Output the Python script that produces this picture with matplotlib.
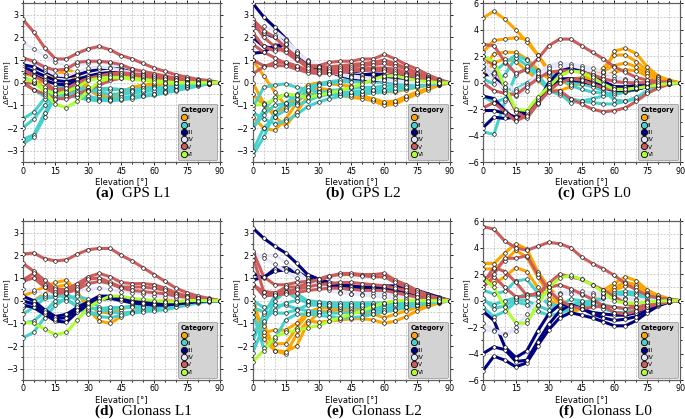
import matplotlib
matplotlib.use("Agg")
import matplotlib.pyplot as plt
from matplotlib.lines import Line2D
from matplotlib.ticker import MultipleLocator

elev = list(range(0, 91, 5))
categories = ["I", "II", "III", "IV", "V", "VI"]
cat_colors = {"I": "#FFA500", "II": "#48D1CC", "III": "#000080",
              "IV": "#E6E6FA", "V": "#CD5C5C", "VI": "#ADFF2F"}

# ---- (a) GPS L1 ----
gps_l1 = {
    "I": [
        [0.4, 0.3, 0.2, 0.3, 0.6, 0.4, -0.2, -0.55, -0.65, -0.55, -0.3, -0.2, -0.1, -0.05, 0.0, 0.0, 0.0, 0.0, 0],
        [0.2, 0.0, 0.05, 0.3, 0.4, 0.1, -0.3, -0.6, -0.7, -0.4, -0.2, -0.1, -0.05, 0.0, 0.0, 0.0, 0.0, 0.0, 0],
    ],
    "II": [
        [-1.6, -1.3, -0.7, -0.2, -0.15, -0.2, -0.3, -0.45, -0.5, -0.5, -0.45, -0.4, -0.35, -0.3, -0.25, -0.2, -0.1, -0.05, 0],
        [-2.0, -1.6, -1.0, -0.35, -0.3, -0.45, -0.6, -0.7, -0.7, -0.65, -0.6, -0.55, -0.5, -0.4, -0.3, -0.2, -0.1, -0.05, 0],
        [-2.5, -2.3, -1.35, -0.5, -0.5, -0.6, -0.7, -0.75, -0.8, -0.75, -0.7, -0.6, -0.55, -0.45, -0.35, -0.25, -0.15, -0.05, 0],
        [-2.7, -2.4, -1.5, -0.6, -0.55, -0.65, -0.75, -0.8, -0.75, -0.7, -0.65, -0.6, -0.5, -0.4, -0.3, -0.2, -0.1, -0.05, 0],
        [0.3, 0.0, -0.3, -0.35, -0.3, -0.3, -0.35, -0.35, -0.3, -0.3, -0.3, -0.25, -0.2, -0.2, -0.15, -0.1, -0.05, 0.0, 0],
        [0.0, -0.3, -0.6, -0.75, -0.6, -0.4, -0.3, -0.25, -0.25, -0.3, -0.35, -0.3, -0.25, -0.2, -0.15, -0.1, -0.05, 0.0, 0],
    ],
    "III": [
        [0.8, 0.7, 0.5, 0.3, 0.25, 0.35, 0.5, 0.6, 0.65, 0.6, 0.5, 0.4, 0.3, 0.2, 0.15, 0.1, 0.05, 0.02, 0],
        [0.7, 0.5, 0.3, 0.1, 0.05, 0.15, 0.3, 0.4, 0.45, 0.45, 0.4, 0.3, 0.25, 0.2, 0.1, 0.05, 0.02, 0.0, 0],
        [0.5, 0.35, 0.1, -0.05, -0.1, 0.05, 0.2, 0.3, 0.35, 0.35, 0.3, 0.25, 0.2, 0.15, 0.1, 0.05, 0.02, 0.0, 0],
    ],
    "IV": [
        [1.8, 1.5, 1.2, 0.9, 0.75, 0.8, 0.85, 0.9, 0.85, 0.75, 0.6, 0.45, 0.35, 0.25, 0.2, 0.1, 0.05, 0.02, 0],
        [1.0, 0.9, 0.6, 0.35, 0.3, 0.5, 0.65, 0.7, 0.65, 0.55, 0.45, 0.35, 0.25, 0.2, 0.15, 0.1, 0.05, 0.0, 0],
    ],
    "V": [
        [2.8, 2.25, 1.55, 1.05, 1.05, 1.3, 1.5, 1.6, 1.45, 1.2, 1.05, 0.85, 0.65, 0.5, 0.35, 0.25, 0.15, 0.1, 0],
        [1.1, 0.95, 0.7, 0.55, 0.6, 0.9, 0.95, 0.95, 0.9, 0.8, 0.6, 0.5, 0.4, 0.3, 0.2, 0.15, 0.1, 0.05, 0],
        [0.6, 0.3, 0.05, -0.35, -0.45, -0.2, 0.1, 0.3, 0.4, 0.45, 0.4, 0.35, 0.3, 0.25, 0.2, 0.15, 0.1, 0.05, 0],
        [0.0, -0.3, -0.5, -0.7, -0.7, -0.5, -0.3, -0.1, 0.1, 0.2, 0.25, 0.2, 0.15, 0.1, 0.1, 0.05, 0.05, 0.0, 0],
        [-0.05, 0.0, -0.2, -0.3, -0.25, 0.0, 0.2, 0.3, 0.35, 0.35, 0.3, 0.25, 0.2, 0.15, 0.1, 0.05, 0.02, 0.0, 0],
    ],
    "VI": [
        [0.15, 0.05, -0.4, -0.95, -1.1, -0.8, -0.35, 0.05, 0.2, 0.25, 0.2, 0.15, 0.1, 0.05, 0.0, 0.0, 0.0, 0.0, 0],
        [0.15, 0.1, -0.3, -0.5, -0.4, -0.2, 0.1, 0.2, 0.25, 0.2, 0.15, 0.1, 0.05, 0.0, 0.0, 0.0, 0.0, 0.0, 0],
    ],
}

# ---- (b) GPS L2 ----
gps_l2 = {
    "I": [
        [1.0, 0.3, -0.4, -1.0, -0.9, -0.4, -0.3, -0.35, -0.4, -0.45, -0.55, -0.75, -0.9, -0.85, -0.65, -0.45, -0.25, -0.1, 0],
        [0.0, -0.9, -1.5, -1.9, -1.3, -0.6, -0.4, -0.4, -0.55, -0.65, -0.7, -0.8, -1.0, -0.95, -0.7, -0.5, -0.3, -0.1, 0],
        [-1.5, -2.0, -2.1, -1.6, -0.9, -0.3, -0.25, -0.3, -0.4, -0.5, -0.6, -0.7, -0.85, -0.8, -0.6, -0.4, -0.25, -0.1, 0],
        [-0.5, -1.0, -1.3, -1.1, -0.6, -0.1, 0.0, -0.05, -0.1, -0.15, -0.2, -0.3, -0.4, -0.4, -0.3, -0.2, -0.1, -0.05, 0],
    ],
    "II": [
        [-3.2, -2.4, -1.3, -0.9, -0.5, -0.2, -0.05, 0.05, 0.1, 0.15, 0.2, 0.2, 0.2, 0.15, 0.1, 0.05, 0.0, 0.0, 0],
        [-3.0, -2.0, -1.5, -1.2, -0.75, -0.35, -0.1, -0.05, 0.05, 0.05, 0.05, 0.05, 0.0, -0.05, -0.05, -0.05, 0.0, 0.0, 0],
        [-2.0, -1.2, -0.65, -0.55, -0.7, -0.6, -0.45, -0.35, -0.3, -0.25, -0.2, -0.2, -0.15, -0.15, -0.1, -0.05, 0.0, 0.0, 0],
        [-1.1, -0.2, -0.1, -0.05, -0.2, -0.3, -0.4, -0.5, -0.55, -0.5, -0.4, -0.35, -0.3, -0.3, -0.25, -0.15, -0.1, -0.05, 0],
        [-1.3, -1.6, -1.8, -1.7, -1.4, -1.05, -0.85, -0.7, -0.6, -0.55, -0.5, -0.45, -0.4, -0.35, -0.25, -0.2, -0.1, -0.05, 0],
        [-2.0, -1.4, -1.0, -0.9, -1.0, -0.8, -0.6, -0.5, -0.45, -0.4, -0.35, -0.3, -0.3, -0.25, -0.2, -0.15, -0.1, -0.05, 0],
    ],
    "III": [
        [3.5, 2.9, 2.45, 1.95, 1.35, 0.95, 0.7, 0.55, 0.45, 0.35, 0.3, 0.3, 0.25, 0.2, 0.15, 0.1, 0.05, 0.02, 0],
        [2.0, 1.6, 1.5, 1.7, 1.2, 0.85, 0.6, 0.45, 0.4, 0.45, 0.55, 0.6, 0.55, 0.4, 0.25, 0.15, 0.1, 0.05, 0],
        [1.3, 1.35, 1.65, 1.65, 1.2, 0.8, 0.6, 0.45, 0.35, 0.3, 0.35, 0.4, 0.35, 0.25, 0.15, 0.1, 0.05, 0.02, 0],
        [2.5, 2.2, 2.0, 1.8, 1.3, 0.9, 0.65, 0.5, 0.3, 0.2, 0.15, 0.1, 0.1, 0.05, 0.05, 0.0, 0.0, 0.0, 0],
    ],
    "IV": [
        [2.4, 2.5, 2.3, 1.9, 1.4, 1.0, 0.75, 0.55, 0.4, 0.3, 0.25, 0.2, 0.15, 0.1, 0.05, 0.02, 0.0, 0.0, 0],
        [2.6, 2.2, 2.1, 1.7, 1.3, 0.95, 0.7, 0.5, 0.35, 0.25, 0.2, 0.15, 0.1, 0.05, 0.02, 0.0, 0.0, 0.0, 0],
    ],
    "V": [
        [2.8, 2.3, 2.0, 1.55, 1.1, 0.75, 0.75, 0.9, 0.95, 0.95, 1.05, 1.05, 1.25, 1.05, 0.8, 0.6, 0.35, 0.15, 0],
        [2.7, 2.0, 1.6, 1.35, 1.0, 0.75, 0.7, 0.7, 0.75, 0.8, 0.85, 0.9, 1.0, 0.85, 0.65, 0.45, 0.25, 0.1, 0],
        [1.7, 1.35, 1.1, 0.85, 0.7, 0.55, 0.55, 0.6, 0.65, 0.7, 0.75, 0.8, 0.85, 0.75, 0.6, 0.4, 0.25, 0.1, 0],
        [1.0, 0.75, 0.75, 0.75, 0.6, 0.45, 0.4, 0.45, 0.5, 0.55, 0.6, 0.65, 0.65, 0.6, 0.45, 0.3, 0.2, 0.1, 0],
        [0.4, 0.7, 0.9, 0.9, 0.75, 0.55, 0.5, 0.5, 0.55, 0.6, 0.6, 0.6, 0.6, 0.5, 0.4, 0.3, 0.15, 0.05, 0],
        [2.2, 1.6, 1.4, 1.5, 1.05, 0.65, 0.45, 0.4, 0.45, 0.5, 0.55, 0.55, 0.5, 0.45, 0.35, 0.25, 0.15, 0.05, 0],
    ],
    "VI": [
        [-1.0, -0.95, -0.75, -0.5, -0.55, -0.65, -0.55, -0.45, -0.35, -0.2, -0.05, 0.15, 0.3, 0.3, 0.2, 0.1, 0.05, 0.0, 0],
    ],
}

# ---- (c) GPS L0 ----
gps_l0 = {
    "I": [
        [4.9, 5.4, 4.8, 4.0, 3.1, 2.1, 0.8, 0.2, -0.2, -0.1, 0.1, 0.7, 2.4, 2.6, 2.2, 1.2, 0.5, 0.2, 0],
        [2.3, 3.2, 3.3, 3.4, 3.3, 2.1, 1.0, 0.2, 0.0, 0.2, 0.5, 1.1, 2.1, 2.1, 1.6, 0.9, 0.4, 0.15, 0],
        [1.0, 2.2, 2.3, 2.3, 1.8, 1.0, 0.3, 0.0, 0.2, 0.4, 0.6, 0.9, 1.3, 1.5, 1.2, 0.7, 0.3, 0.1, 0],
        [0.5, 1.5, 1.8, 1.6, 0.9, 0.2, -0.5, -0.6, -0.3, 0.1, 0.3, 0.5, 0.8, 1.0, 0.9, 0.5, 0.25, 0.1, 0],
    ],
    "II": [
        [-3.7, -3.9, -1.4, 0.6, 1.1, 0.9, 0.6, 0.3, 0.0, -0.1, -0.3, -0.6, -1.3, -1.4, -1.2, -0.7, -0.3, -0.1, 0],
        [0.3, -0.1, 0.6, 1.9, 1.3, 0.4, -0.6, -0.9, -1.2, -1.4, -1.5, -1.6, -1.6, -1.4, -1.1, -0.6, -0.3, -0.1, 0],
        [1.2, 0.8, 1.5, 2.1, 1.7, 0.6, -0.4, -0.8, -1.5, -1.4, -1.2, -1.0, -0.9, -0.7, -0.5, -0.3, -0.15, -0.05, 0],
        [-1.0, -1.5, -1.2, -0.5, 0.0, 0.5, 0.7, 0.4, -0.2, -0.5, -0.7, -0.8, -0.8, -0.7, -0.5, -0.3, -0.15, -0.05, 0],
    ],
    "III": [
        [-3.4, -2.6, -2.7, -2.6, -2.4, -1.5, 0.0, 0.9, 1.1, 1.0, 0.6, 0.1, -0.3, -0.4, -0.3, -0.2, -0.1, -0.05, 0],
        [-1.0, -1.2, -2.1, -2.8, -2.5, -1.5, -0.2, 0.2, 0.2, 0.1, -0.1, -0.4, -0.6, -0.6, -0.5, -0.3, -0.15, -0.05, 0],
        [0.6, 0.6, -0.6, -2.1, -2.3, -1.3, -0.2, 0.3, 0.3, 0.2, -0.1, -0.3, -0.4, -0.35, -0.25, -0.15, -0.1, 0.0, 0],
        [-2.1, -2.1, -2.3, -2.6, -2.3, -1.2, -0.3, 0.2, 0.3, 0.25, 0.0, -0.2, -0.3, -0.3, -0.2, -0.1, -0.05, 0.0, 0],
    ],
    "IV": [
        [1.6, 0.7, 0.0, -0.6, -0.2, 0.7, 1.3, 1.5, 1.4, 1.3, 1.1, 0.8, 0.5, 0.3, 0.15, 0.1, 0.05, 0.0, 0],
        [1.3, 0.2, -0.5, -1.0, -0.6, 0.4, 1.1, 1.3, 1.3, 1.1, 0.8, 0.5, 0.3, 0.2, 0.1, 0.05, 0.0, 0.0, 0],
    ],
    "V": [
        [2.9, 2.8, 1.6, 0.7, 1.0, 1.8, 2.8, 3.3, 3.3, 2.8, 2.3, 1.8, 1.2, 0.8, 0.4, 0.2, 0.1, 0.05, 0],
        [2.0, 1.3, -0.3, -2.2, -2.7, -1.6, -0.6, 0.0, 0.3, 0.2, -0.1, -0.4, -0.5, -0.5, -0.4, -0.3, -0.2, -0.1, 0],
        [-1.9, -1.5, -2.2, -2.9, -2.5, -1.5, -0.7, -0.6, -1.2, -1.6, -2.0, -2.2, -2.1, -1.9, -1.4, -0.8, -0.4, -0.1, 0],
        [0.0, -0.6, -0.8, -0.9, -0.3, 0.3, 0.8, 0.9, 0.9, 0.8, 0.6, 0.3, 0.1, 0.0, 0.0, 0.0, 0.0, 0.0, 0],
    ],
    "VI": [
        [2.0, 1.6, -0.3, -2.0, -2.1, -1.1, -0.3, 0.5, 0.9, 0.8, 0.4, -0.1, -0.5, -0.5, -0.4, -0.3, -0.15, -0.05, 0],
    ],
}

# ---- (d) Glonass L1 ----
glo_l1 = {
    "I": [
        [0.2, 0.4, 0.6, 0.8, 0.9, 0.4, -0.4, -0.9, -1.0, -0.7, -0.5, -0.3, -0.2, -0.1, -0.05, 0.0, 0.0, 0.0, 0],
        [-0.3, 0.0, 0.3, 0.6, 0.7, 0.3, -0.2, -0.5, -0.55, -0.4, -0.2, -0.1, -0.05, 0.0, 0.0, 0.0, 0.0, 0.0, 0],
    ],
    "II": [
        [-1.65, -1.4, -0.75, -0.2, 0.1, 0.2, 0.05, -0.3, -0.5, -0.55, -0.5, -0.4, -0.35, -0.25, -0.2, -0.1, -0.05, 0.0, 0],
        [-0.6, -0.3, 0.1, 0.15, 0.3, 0.0, -0.45, -0.7, -0.75, -0.65, -0.55, -0.5, -0.45, -0.4, -0.3, -0.2, -0.1, -0.05, 0],
        [-0.3, 0.0, 0.2, 0.3, 0.1, -0.3, -0.6, -0.5, -0.4, -0.3, -0.25, -0.2, -0.2, -0.15, -0.1, -0.05, 0.0, 0.0, 0],
        [-1.0, -0.9, -0.5, 0.0, 0.0, -0.2, -0.35, -0.35, -0.3, -0.3, -0.3, -0.3, -0.25, -0.2, -0.15, -0.1, -0.05, 0.0, 0],
    ],
    "III": [
        [0.2, 0.0, -0.4, -0.7, -0.6, -0.3, -0.05, 0.2, 0.2, 0.1, 0.0, -0.05, -0.1, -0.1, -0.1, -0.05, 0.0, 0.0, 0],
        [-0.2, -0.3, -0.6, -0.9, -0.95, -0.5, -0.2, 0.05, 0.1, 0.0, -0.1, -0.15, -0.2, -0.2, -0.15, -0.1, -0.05, 0.0, 0],
        [0.0, -0.15, -0.5, -0.8, -0.75, -0.4, -0.1, 0.1, 0.15, 0.05, -0.05, -0.1, -0.15, -0.15, -0.1, -0.05, 0.0, 0.0, 0],
    ],
    "IV": [
        [0.5, 0.45, 0.3, 0.3, 0.35, 0.45, 0.5, 0.55, 0.5, 0.4, 0.35, 0.3, 0.2, 0.15, 0.1, 0.05, 0.02, 0.0, 0],
    ],
    "V": [
        [2.05, 2.1, 1.85, 1.75, 1.8, 2.05, 2.25, 2.3, 2.3, 2.0, 1.75, 1.45, 1.15, 0.85, 0.55, 0.35, 0.2, 0.1, 0],
        [1.65, 1.3, 0.9, 0.5, 0.5, 0.75, 1.05, 1.2, 1.05, 0.8, 0.75, 0.75, 0.7, 0.55, 0.35, 0.2, 0.1, 0.05, 0],
        [0.9, 1.2, 0.7, 0.4, 0.4, 0.6, 0.95, 1.0, 0.8, 0.6, 0.6, 0.6, 0.55, 0.45, 0.3, 0.2, 0.1, 0.05, 0],
        [0.85, 1.0, 0.6, 0.3, 0.35, 0.5, 0.75, 0.85, 0.75, 0.55, 0.45, 0.4, 0.35, 0.3, 0.2, 0.15, 0.1, 0.05, 0],
    ],
    "VI": [
        [-0.95, -1.0, -1.25, -1.5, -1.4, -0.85, -0.3, 0.0, 0.2, 0.2, 0.1, 0.05, 0.0, -0.05, -0.05, 0.0, 0.0, 0.0, 0],
    ],
}

# ---- (e) Glonass L2 ----
glo_l2 = {
    "I": [
        [-0.5, -1.0, -2.2, -2.35, -1.5, -0.9, -0.95, -0.9, -0.85, -0.8, -0.8, -0.85, -1.0, -0.9, -0.7, -0.45, -0.25, -0.1, 0],
        [-0.7, -1.5, -1.9, -1.9, -1.2, -0.6, -0.5, -0.45, -0.4, -0.45, -0.55, -0.6, -0.75, -0.6, -0.45, -0.3, -0.2, -0.1, 0],
        [0.2, -1.7, -2.2, -2.25, -2.0, -1.0, -0.55, -0.45, -0.35, -0.3, -0.3, -0.4, -0.45, -0.4, -0.3, -0.2, -0.1, -0.05, 0],
        [-0.2, -1.4, -1.3, -1.3, -1.0, -0.5, -0.35, -0.3, -0.3, -0.35, -0.4, -0.45, -0.5, -0.4, -0.3, -0.2, -0.1, -0.05, 0],
    ],
    "II": [
        [-2.3, -1.1, 0.0, 0.4, 0.1, -0.1, -0.1, -0.1, -0.15, -0.15, -0.15, -0.15, -0.15, -0.1, -0.1, -0.05, 0.0, 0.0, 0],
        [-1.8, -0.6, 0.2, 0.55, 0.3, 0.0, -0.2, -0.25, -0.3, -0.3, -0.3, -0.3, -0.3, -0.25, -0.2, -0.15, -0.1, -0.05, 0],
        [0.0, -0.3, -0.2, -0.2, -0.35, -0.45, -0.5, -0.55, -0.55, -0.5, -0.5, -0.45, -0.4, -0.35, -0.3, -0.2, -0.1, -0.05, 0],
        [-0.5, -2.1, -1.7, -0.85, -0.6, -0.6, -0.65, -0.7, -0.75, -0.75, -0.7, -0.6, -0.5, -0.4, -0.3, -0.2, -0.1, -0.05, 0],
        [-1.4, -0.9, -0.4, -0.1, 0.0, 0.0, -0.05, -0.1, -0.1, -0.1, -0.1, -0.1, -0.1, -0.1, -0.05, -0.05, 0.0, 0.0, 0],
        [-0.3, -0.5, -0.55, -0.55, -0.4, -0.2, -0.2, -0.2, -0.2, -0.2, -0.2, -0.2, -0.15, -0.15, -0.1, -0.05, 0.0, 0.0, 0],
    ],
    "III": [
        [3.2, 2.75, 2.4, 2.1, 1.65, 1.15, 0.95, 0.8, 0.7, 0.65, 0.6, 0.6, 0.65, 0.65, 0.55, 0.45, 0.3, 0.15, 0],
        [1.2, 1.0, 1.4, 1.45, 1.3, 1.0, 0.8, 0.7, 0.65, 0.6, 0.55, 0.55, 0.5, 0.45, 0.4, 0.3, 0.2, 0.1, 0],
        [0.9, 1.05, 1.3, 1.35, 1.25, 1.0, 0.8, 0.65, 0.55, 0.5, 0.5, 0.55, 0.55, 0.5, 0.4, 0.25, 0.15, 0.05, 0],
    ],
    "IV": [
        [1.8, 2.0, 2.0, 1.7, 1.3, 0.9, 0.7, 0.55, 0.4, 0.3, 0.3, 0.35, 0.3, 0.25, 0.15, 0.1, 0.05, 0.0, 0],
        [2.1, 1.9, 1.6, 1.3, 1.0, 0.8, 0.6, 0.45, 0.35, 0.3, 0.25, 0.2, 0.15, 0.1, 0.05, 0.02, 0.0, 0.0, 0],
    ],
    "V": [
        [2.2, 1.05, 0.7, 0.7, 0.8, 0.85, 0.9, 1.05, 1.2, 1.2, 1.15, 1.15, 1.2, 0.9, 0.7, 0.45, 0.25, 0.1, 0],
        [1.95, 0.4, 0.3, 0.6, 0.6, 0.75, 0.95, 1.1, 1.15, 1.15, 1.1, 1.05, 1.05, 0.8, 0.6, 0.4, 0.2, 0.1, 0],
        [0.7, 0.4, 0.35, 0.4, 0.5, 0.6, 0.7, 0.75, 0.8, 0.8, 0.75, 0.7, 0.65, 0.55, 0.45, 0.3, 0.2, 0.1, 0],
        [0.75, 0.2, 0.25, 0.3, 0.35, 0.45, 0.5, 0.55, 0.55, 0.5, 0.45, 0.45, 0.45, 0.35, 0.25, 0.15, 0.1, 0.05, 0],
    ],
    "VI": [
        [-2.7, -2.2, -1.6, -1.4, -1.3, -1.2, -1.1, -0.9, -0.75, -0.6, -0.45, -0.25, -0.1, 0.0, 0.0, 0.0, 0.0, 0.0, 0],
    ],
}

# ---- (f) Glonass L0 ----
glo_l0 = {
    "I": [
        [2.8, 2.8, 3.6, 4.3, 3.9, 2.2, 1.0, 0.2, -0.5, -0.4, 0.0, 0.8, 1.3, 1.8, 1.5, 0.8, 0.4, 0.15, 0],
        [2.4, 2.4, 3.0, 3.8, 3.3, 1.8, 0.5, -0.2, -0.7, -0.6, -0.2, 0.5, 1.0, 1.4, 1.2, 0.6, 0.3, 0.1, 0],
        [1.8, 1.3, 1.8, 2.5, 2.2, 1.0, 0.1, -0.5, -0.9, -0.6, -0.1, 0.3, 0.8, 1.1, 1.0, 0.5, 0.2, 0.1, 0],
    ],
    "II": [
        [0.8, 0.5, 0.7, 1.5, 1.6, 0.6, -0.3, -0.4, -0.4, -0.3, -0.1, 0.2, 0.6, 0.7, 0.6, 0.4, 0.2, 0.1, 0],
        [0.0, -0.3, 0.0, 0.2, 0.5, 0.3, -0.2, -0.5, -0.3, -0.1, 0.0, 0.2, 0.4, 0.5, 0.4, 0.2, 0.1, 0.05, 0],
        [-0.5, -1.2, -0.8, -0.1, -0.3, -0.8, -1.1, -1.0, -0.6, -0.4, -0.3, -0.3, -0.5, -0.6, -0.5, -0.3, -0.2, -0.1, 0],
        [0.2, -0.6, -0.4, 0.1, 0.0, -0.4, -0.7, -0.4, 0.1, 0.0, -0.2, -0.6, -0.9, -0.9, -0.7, -0.4, -0.2, -0.1, 0],
    ],
    "III": [
        [-5.3, -4.2, -4.5, -5.0, -4.7, -3.4, -2.2, -1.3, -0.9, -1.1, -1.3, -1.6, -1.9, -1.9, -1.5, -0.9, -0.4, -0.1, 0],
        [-4.0, -3.5, -3.7, -4.6, -4.5, -3.1, -1.8, -0.8, -0.3, -0.6, -1.0, -1.3, -1.5, -1.4, -1.2, -0.7, -0.3, -0.1, 0],
        [-0.8, -1.5, -3.5, -4.3, -3.8, -2.3, -1.0, -0.3, -0.3, -0.6, -0.9, -1.0, -1.1, -1.1, -0.9, -0.5, -0.25, -0.1, 0],
    ],
    "IV": [
        [-1.7, -2.2, -2.5, -2.3, -1.5, -0.3, 0.5, 0.6, 0.7, 0.7, 0.6, 0.5, 0.3, 0.2, 0.1, 0.05, 0.0, 0.0, 0],
        [-2.2, -2.3, -2.6, -2.0, -1.0, 0.0, 0.4, 0.5, 0.5, 0.45, 0.4, 0.3, 0.2, 0.1, 0.05, 0.0, 0.0, 0.0, 0],
    ],
    "V": [
        [5.6, 5.4, 4.5, 4.0, 3.8, 4.1, 4.4, 4.3, 4.0, 3.3, 2.8, 2.4, 1.9, 1.3, 0.8, 0.4, 0.2, 0.1, 0],
        [1.3, 2.5, 2.2, 1.4, 0.4, 0.5, 1.3, 2.0, 1.8, 1.6, 1.2, 0.8, 0.3, -0.2, -0.5, -0.4, -0.2, -0.1, 0],
        [1.0, 1.8, 1.0, 0.3, 0.3, 0.6, 1.0, 1.2, 0.9, 0.5, 0.1, -0.4, -0.9, -1.0, -0.8, -0.5, -0.25, -0.1, 0],
        [1.6, 2.0, 3.2, 3.2, 3.4, 2.0, 0.8, 0.0, -0.4, -0.6, -0.5, -0.4, -0.5, -0.6, -0.5, -0.3, -0.15, -0.05, 0],
    ],
    "VI": [
        [1.7, 1.0, -0.5, -1.7, -1.7, -0.3, 1.0, 1.7, 1.9, 1.6, 1.2, 0.6, 0.0, -0.2, -0.2, -0.1, -0.05, 0.0, 0],
    ],
}

panels = [
    (gps_l1, "(a)", "GPS L1", 3.5),
    (gps_l2, "(b)", "GPS L2", 3.5),
    (gps_l0, "(c)", "GPS L0", 6),
    (glo_l1, "(d)", "Glonass L1", 3.5),
    (glo_l2, "(e)", "Glonass L2", 3.5),
    (glo_l0, "(f)", "Glonass L0", 6),
]

fig = plt.figure(figsize=(6.85, 4.19), dpi=100)
lefts = [0.033, 0.369, 0.705]
bottoms = [0.613, 0.093]
w, h = 0.288, 0.379


def draw_panel(ax, data, ylim):
    for cat in categories:
        for line in data.get(cat, []):
            ax.plot(elev, line, color=cat_colors[cat], lw=2.2,
                    solid_capstyle="round", zorder=2)
    for cat in categories:
        for line in data.get(cat, []):
            ax.plot(elev, line, ls="none", marker="o", ms=2.6,
                    mfc="white", mec="black", mew=0.45, zorder=3)
    ax.set_xlim(0, 90)
    ax.set_ylim(-ylim, ylim)
    ax.xaxis.set_major_locator(MultipleLocator(15))
    ax.xaxis.set_minor_locator(MultipleLocator(5))
    if ylim > 4:
        ax.yaxis.set_major_locator(MultipleLocator(2))
        ax.yaxis.set_minor_locator(MultipleLocator(1))
    else:
        ax.yaxis.set_major_locator(MultipleLocator(1))
        ax.yaxis.set_minor_locator(MultipleLocator(0.5))
    ax.grid(which="both", color="#c8c8c8", ls=(0, (2.5, 1.5)), lw=0.6, zorder=0)
    ax.set_axisbelow(True)
    ax.tick_params(which="both", labelsize=5.8, length=2, width=0.6,
                   top=True, right=True, direction="out", pad=1.2)
    ax.tick_params(which="minor", length=1.2)
    for s in ax.spines.values():
        s.set_color("#606060")
        s.set_linewidth(0.9)
    ax.set_xlabel("Elevation [°]", fontsize=6, labelpad=1)
    ax.set_ylabel("ΔPCC [mm]", fontsize=5.4)
    ax.yaxis.set_label_coords(-0.066, 0.5)

    handles = [Line2D([], [], ls="none", marker="o", ms=4.5, mfc=cat_colors[c],
                      mec="black", mew=0.6, label=c) for c in categories]
    leg = ax.legend(handles=handles, title="Category", loc="lower right",
                    fontsize=4.3, title_fontsize=4.8, frameon=True,
                    facecolor="#d3d3d3", edgecolor="#a0a0a0", framealpha=1,
                    borderpad=0.5, labelspacing=0.35, handletextpad=0.1,
                    handlelength=1.0, borderaxespad=0.4, alignment="left")
    leg.get_title().set_fontweight("bold")
    leg.get_frame().set_linewidth(0.6)
    leg.set_zorder(5)


for i, (data, tag, name, ylim) in enumerate(panels):
    r, c = divmod(i, 3)
    ax = fig.add_axes([lefts[c], bottoms[r], w, h])
    draw_panel(ax, data, ylim)
    cx = lefts[c] + w / 2
    cy = bottoms[r] - 0.075
    fig.text(cx - 0.005, cy, tag + " ", ha="right", va="center",
             fontsize=11, fontweight="bold", family="Liberation Serif")
    fig.text(cx - 0.005, cy, " " + name, ha="left", va="center",
             fontsize=11, family="Liberation Serif")

fig.savefig("out.png", dpi=100)
